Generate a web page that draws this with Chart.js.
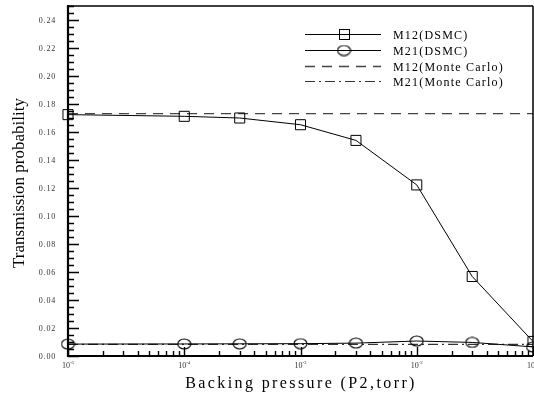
<!DOCTYPE html>
<html>
<head>
<meta charset="utf-8">
<script src="https://cdn.jsdelivr.net/npm/chart.js@4.4.1/dist/chart.umd.min.js"></script>
<style>
  html, body { margin: 0; padding: 0; background: #fff; }
  #wrap { width: 534px; height: 397px; position: relative; }
</style>
</head>
<body>
<div id="wrap"><canvas id="chart" width="534" height="397"></canvas></div>
<script>
// --- data ---
const pressures = [1e-5, 1e-4, 3e-4, 1e-3, 3e-3, 1e-2, 3e-2, 1e-1];
const m12Dsmc = [0.1724, 0.1712, 0.1700, 0.1652, 0.1540, 0.1222, 0.0568, 0.0104];
const m21Dsmc = [0.0085, 0.0086, 0.0087, 0.0088, 0.0092, 0.0107, 0.0097, 0.0065];
const mcPressures = [1e-5, 1e-1];
const m12Mc = [0.1731, 0.1731];
const m21Mc = [0.0083, 0.0083];
const yTickValues = [0, 0.02, 0.04, 0.06, 0.08, 0.10, 0.12, 0.14, 0.16, 0.18, 0.20, 0.22, 0.24];
const xTickExponents = [-5, -4, -3, -2, -1];
const seriesNames = ['M12(DSMC)', 'M21(DSMC)', 'M12(Monte Carlo)', 'M21(Monte Carlo)'];

const SERIF = '"Liberation Serif", "Times New Roman", serif';

function pairs(xs, ys) {
  return xs.map((x, i) => ({ x: x, y: ys[i] }));
}

// hollow ellipse marker (the circles in the original are slightly wide)
function ellipseMarker() {
  const c = document.createElement('canvas');
  c.width = 15; c.height = 12;
  const g = c.getContext('2d');
  g.strokeStyle = '#000';
  g.lineWidth = 1.1;
  g.beginPath();
  g.ellipse(7.5, 6, 6.5, 5, 0, 0, Math.PI * 2);
  g.stroke();
  return c;
}
const ellipse = ellipseMarker();

// --- frame, inward ticks, tick labels, titles and legend ---
const decorations = {
  id: 'decorations',
  afterDraw(chart) {
    const ctx = chart.ctx;
    const xs = chart.scales.x, ys = chart.scales.y;
    const a = chart.chartArea;
    ctx.save();
    ctx.strokeStyle = '#000';

    // frame
    ctx.lineWidth = 1.5;
    ctx.beginPath();
    ctx.moveTo(a.left, a.top); ctx.lineTo(a.right, a.top);
    ctx.moveTo(a.right, a.top); ctx.lineTo(a.right, a.bottom);
    ctx.stroke();
    ctx.lineWidth = 2.2;
    ctx.beginPath();
    ctx.moveTo(a.left, a.top - 1); ctx.lineTo(a.left, a.bottom + 1);
    ctx.moveTo(a.left - 1, a.bottom); ctx.lineTo(a.right, a.bottom);
    ctx.stroke();

    // y ticks (minor every 0.005)
    ctx.lineWidth = 1.6;
    ctx.beginPath();
    for (let i = 0; i <= 50; i++) {
      const py = Math.round(ys.getPixelForValue(i * 0.005)) + 0.5;
      const len = i % 4 === 0 ? 11 : 6;
      ctx.moveTo(a.left, py); ctx.lineTo(a.left + len, py);
    }
    ctx.stroke();

    // x ticks (log decades + 2..9)
    ctx.lineWidth = 1.4;
    ctx.beginPath();
    for (let d = -5; d <= -1; d++) {
      for (let m = 1; m <= 9; m++) {
        const v = m * Math.pow(10, d);
        if (v > 0.1000001) break;
        const px = Math.round(xs.getPixelForValue(v)) + 0.5;
        const len = m === 1 ? 9 : 5;
        ctx.moveTo(px, a.bottom); ctx.lineTo(px, a.bottom - len);
      }
    }
    ctx.stroke();

    // y tick labels
    ctx.fillStyle = '#333';
    ctx.font = '8px ' + SERIF;
    ctx.letterSpacing = '0.8px';
    ctx.textAlign = 'right';
    ctx.textBaseline = 'middle';
    yTickValues.forEach(v => {
      ctx.fillText(v.toFixed(2), a.left - 12, ys.getPixelForValue(v) + 1);
    });

    // x tick labels: 10 with superscript exponent
    ctx.textBaseline = 'alphabetic';
    ctx.letterSpacing = '0px';
    xTickExponents.forEach(e => {
      const px = xs.getPixelForValue(Math.pow(10, e));
      ctx.font = '8px ' + SERIF;
      const w1 = ctx.measureText('10').width;
      ctx.font = '5px ' + SERIF;
      const w2 = ctx.measureText(String(e)).width;
      const left = px - (w1 + w2) / 2;
      ctx.textAlign = 'left';
      ctx.font = '8px ' + SERIF;
      ctx.fillText('10', left, a.bottom + 12);
      ctx.font = '5px ' + SERIF;
      ctx.fillText(String(e), left + w1, a.bottom + 8);
    });

    // axis titles
    ctx.fillStyle = '#000';
    ctx.font = '16px ' + SERIF;
    ctx.letterSpacing = '2.4px';
    ctx.textAlign = 'center';
    ctx.textBaseline = 'alphabetic';
    ctx.fillText('Backing pressure (P2,torr)', 301, 388);

    ctx.letterSpacing = '0px';
    ctx.save();
    ctx.translate(24, 183);
    ctx.rotate(-Math.PI / 2);
    ctx.font = '17px ' + SERIF;
    ctx.fillText('Transmission probability', 0, 0);
    ctx.restore();

    // legend
    const rows = [34, 50, 66, 81];
    ctx.font = '12px ' + SERIF;
    ctx.letterSpacing = '1.2px';
    ctx.textAlign = 'left';
    ctx.textBaseline = 'middle';
    chart.data.datasets.forEach((ds, i) => {
      const y = rows[i] + 0.5;
      ctx.save();
      ctx.strokeStyle = ds.borderColor;
      ctx.lineWidth = ds.borderWidth;
      ctx.setLineDash(ds.borderDash || []);
      ctx.beginPath();
      ctx.moveTo(305, y); ctx.lineTo(381, y);
      ctx.stroke();
      ctx.restore();
      if (ds.pointStyle === 'rect') {
        ctx.lineWidth = 1;
        ctx.strokeRect(339.5, y - 5, 10, 10);
      } else if (ds.pointStyle === ellipse) {
        ctx.drawImage(ellipse, 344 - 7.5, y - 6);
      }
      ctx.fillStyle = '#000';
      ctx.fillText(ds.label, 393, y + 1);
    });

    ctx.restore();
  }
};

new Chart(document.getElementById('chart'), {
  type: 'line',
  data: {
    datasets: [
      {
        label: seriesNames[0],
        data: pairs(pressures, m12Dsmc),
        borderColor: '#000', borderWidth: 1,
        pointStyle: 'rect', pointRadius: 7.1,
        pointBorderColor: '#000', pointBackgroundColor: 'rgba(0,0,0,0)', pointBorderWidth: 1,
        clip: false
      },
      {
        label: seriesNames[1],
        data: pairs(pressures, m21Dsmc),
        borderColor: '#000', borderWidth: 1,
        pointStyle: ellipse, pointRadius: 6,
        clip: false
      },
      {
        label: seriesNames[2],
        data: pairs(mcPressures, m12Mc),
        borderColor: '#444', borderWidth: 1.3, borderDash: [10, 7],
        pointRadius: 0, clip: false
      },
      {
        label: seriesNames[3],
        data: pairs(mcPressures, m21Mc),
        borderColor: '#333', borderWidth: 1.2, borderDash: [10, 4, 2, 4],
        pointRadius: 0, clip: false
      }
    ]
  },
  options: {
    responsive: false,
    animation: false,
    events: [],
    layout: { autoPadding: false, padding: { left: 68, top: 6, right: 1, bottom: 41 } },
    scales: {
      x: { type: 'logarithmic', min: 1e-5, max: 1e-1, display: false },
      y: { type: 'linear', min: 0, max: 0.25, display: false }
    },
    plugins: { legend: { display: false }, tooltip: { enabled: false } }
  },
  plugins: [decorations]
});
</script>
</body>
</html>
